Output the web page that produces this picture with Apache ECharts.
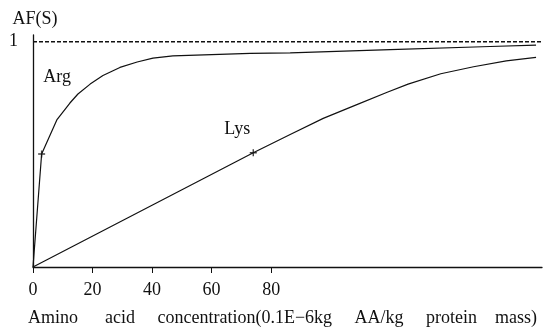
<!DOCTYPE html>
<html>
<head>
<meta charset="utf-8">
<script src="https://cdn.jsdelivr.net/npm/echarts@6/dist/echarts.min.js"></script>
<style>
  html, body { margin: 0; padding: 0; background: #fff; }
  #chart { width: 549px; height: 332px; }
</style>
</head>
<body>
<div id="chart"></div>
<script>
// Activity factor AF(S) against amino acid concentration
const xTicks = [0, 20, 40, 60, 80];
const yTicks = [1];

// Arg: steep rise, then saturates near 1
const argX = [0, 2.9, 8, 12.4, 15.1, 19.2, 23.5, 29.2, 35, 40.3, 47, 73, 86.4, 120, 153.6, 169];
const argY = [0, 0.502, 0.653, 0.728, 0.768, 0.812, 0.850, 0.886, 0.910, 0.927, 0.937, 0.948, 0.951, 0.965, 0.979, 0.985];

// Lys: near-linear rise, bending over at high concentration
const lysX = [0, 74, 86.4, 97.5, 109, 119, 126, 137, 148, 159, 169];
const lysY = [0, 0.507, 0.588, 0.660, 0.722, 0.776, 0.812, 0.858, 0.889, 0.915, 0.931];

// points marked with a cross on each curve
const argMarkX = [2.9], argMarkY = [0.502];
const lysMarkX = [74], lysMarkY = [0.507];

// saturation level AF = 1
const refX = [0, 171];
const refY = [1, 1];

// curve names and where they are written
const curveNames = ['Arg', 'Lys'];
const nameX = [8.1, 68.6];
const nameY = [0.844, 0.613];

const zip = (xs, ys) => xs.map((x, i) => [x, ys[i]]);
const serif = 'Liberation Serif';
const ink = '#111';

const chart = echarts.init(document.getElementById('chart'), null, { renderer: 'canvas' });

const plus = 'path://M4,0h2v4h4v2h-4v4h-2v-4h-4v-2h4z';

chart.setOption({
  animation: false,
  backgroundColor: '#fff',
  grid: { left: 33, right: 7, top: 35, bottom: 65, containLabel: false },
  xAxis: {
    type: 'value',
    min: 0,
    max: 171,
    name: 'Amino      acid     concentration(0.1E\u22126kg     AA/kg     protein    mass)',
    nameLocation: 'middle',
    nameGap: 42,
    nameTextStyle: { fontFamily: serif, fontSize: 18, color: ink, padding: [0, 10, 0, 0] },
    axisLine: { lineStyle: { color: ink, width: 1.3 } },
    axisTick: { show: true, customValues: xTicks, length: 6, lineStyle: { color: ink, width: 1 } },
    axisLabel: { customValues: xTicks, fontFamily: serif, fontSize: 18, color: ink, margin: 14 },
    splitLine: { show: false }
  },
  yAxis: {
    type: 'value',
    min: 0,
    max: 1.03,
    name: 'AF(S)',
    nameLocation: 'end',
    nameGap: 7,
    nameTextStyle: { fontFamily: serif, fontSize: 18, color: ink, align: 'center', padding: [0, 0, 0, 4] },
    axisLine: { show: true, lineStyle: { color: ink, width: 1.3 } },
    axisTick: { show: false },
    axisLabel: { customValues: yTicks, fontFamily: serif, fontSize: 18, color: ink, margin: 15 },
    splitLine: { show: false }
  },
  series: [
    {
      name: 'AF=1',
      type: 'line',
      data: zip(refX, refY),
      symbol: 'none',
      lineStyle: { color: ink, width: 1.3, type: [4, 2] },
      silent: true
    },
    {
      name: 'Arg',
      type: 'line',
      data: zip(argX, argY),
      symbol: 'none',
      lineStyle: { color: ink, width: 1.2 },
      markPoint: {
        symbol: 'circle',
        symbolSize: 0,
        label: { show: true, position: 'inside', formatter: '{b}', fontFamily: serif, fontSize: 18, color: ink },
        data: [{ name: curveNames[0], coord: [nameX[0], nameY[0]] }]
      }
    },
    {
      name: 'Lys',
      type: 'line',
      data: zip(lysX, lysY),
      symbol: 'none',
      lineStyle: { color: ink, width: 1.2 },
      markPoint: {
        symbol: 'circle',
        symbolSize: 0,
        label: { show: true, position: 'inside', formatter: '{b}', fontFamily: serif, fontSize: 18, color: ink },
        data: [{ name: curveNames[1], coord: [nameX[1], nameY[1]] }]
      }
    },
    {
      name: 'marks',
      type: 'scatter',
      data: zip(argMarkX, argMarkY).concat(zip(lysMarkX, lysMarkY)),
      symbol: plus,
      symbolSize: 7,
      itemStyle: { color: ink }
    }
  ]
});
</script>
</body>
</html>
